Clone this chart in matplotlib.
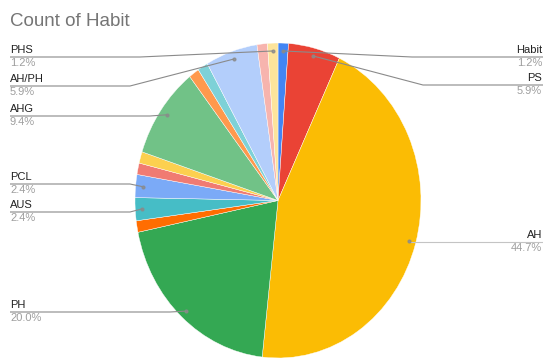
import numpy as np
import matplotlib
matplotlib.use("Agg")
import matplotlib.pyplot as plt

plt.rcParams["font.family"] = ["Liberation Sans", "DejaVu Sans"]

# 数据 (顺时针, 从12点方向开始)
names = ["Habit", "PS", "AH", "PH", "", "AUS", "PCL", "", "", "AHG", "", "", "AH/PH", "", "PHS"]
counts = [1, 5, 38, 17, 1, 2, 2, 1, 1, 8, 1, 1, 5, 1, 1]
colors = ["#4285F4", "#EA4335", "#FBBC04", "#34A853", "#FF6D01", "#46BDC6", "#7BAAF7",
          "#F07B72", "#FCD04F", "#71C287", "#FF994D", "#7ED1D7", "#B3CEFB", "#F7B4AE", "#FDE49B"]

# 标签位置: (左/右, 引线y, 拐点x)  -- 像素坐标
label_pos = {
    "PHS": ("L", 57, 140),
    "AH/PH": ("L", 86, 130),
    "AHG": ("L", 116, 150),
    "PCL": ("L", 184, 130),
    "AUS": ("L", 212, 130),
    "PH": ("L", 312, 170),
    "Habit": ("R", 57, 412),
    "PS": ("R", 85, 423),
    "AH": ("R", 242, None),
}

W, H = 543, 360
fig = plt.figure(figsize=(W / 100, H / 100), dpi=100)

# 饼图 (原图被横向压缩, 所以是椭圆)
ax = fig.add_axes([135 / W, 2 / H, 286 / W, 315 / H])
wedges, _ = ax.pie(counts, colors=colors, startangle=90, counterclock=False,
                   wedgeprops=dict(edgecolor="white", linewidth=0.3))
ax.set_aspect("auto")
ax.set_xlim(-1, 1)
ax.set_ylim(-1, 1)

# 覆盖层, 用像素坐标画标签
ov = fig.add_axes([0, 0, 1, 1], zorder=3)
ov.set_xlim(0, W)
ov.set_ylim(H, 0)
ov.axis("off")
ov.patch.set_alpha(0)

ov.text(10, 26, "Count of Habit", fontsize=13.5, color="#757575", va="baseline", ha="left")

total = sum(counts)
to_ov = ov.transData.inverted()
for w, name, c in zip(wedges, names, counts):
    if not name:
        continue
    side, ly, bx = label_pos[name]
    mid = np.deg2rad((w.theta1 + w.theta2) / 2)
    px, py = to_ov.transform(ax.transData.transform((0.95 * np.cos(mid), 0.95 * np.sin(mid))))
    pct = f"{c / total * 100:.1f}%"
    lc = "#8a8a8a"
    if side == "L":
        xs = [10, bx, px]
        ys = [ly, ly, py]
        tx, ha = 10, "left"
    else:
        if bx is None:
            bx = px
            lc = "#c4c4c4"
        xs = [px, bx, W]
        ys = [py, ly, ly]
        tx, ha = W - 1, "right"
    ov.plot(xs, ys, color=lc, lw=0.8, solid_capstyle="butt")
    ov.plot([px], [py], "o", ms=2, color="#8a8a8a", alpha=0.8)
    ov.text(tx, ly - 4, name, fontsize=8, color="#222222", ha=ha, va="baseline")
    ov.text(tx, ly + 9, pct, fontsize=8, color="#9e9e9e", ha=ha, va="baseline")

fig.savefig("out.png", dpi=100)
